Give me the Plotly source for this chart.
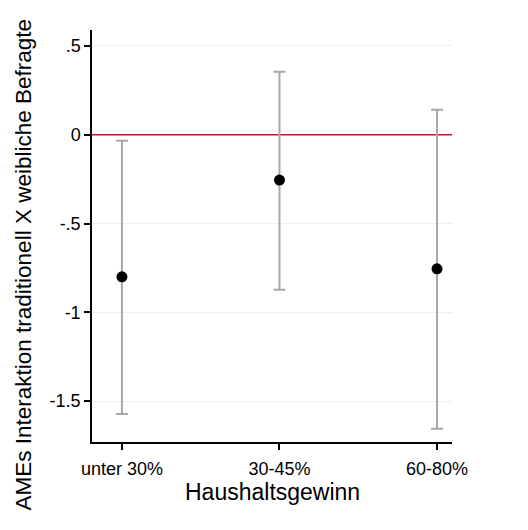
import plotly.graph_objects as go

categories = ["unter 30%", "30-45%", "60-80%"]
estimates = [-0.80, -0.255, -0.755]
ci_upper = [-0.034, 0.355, 0.141]
ci_lower = [-1.572, -0.873, -1.656]
ytick_vals = [0.5, 0, -0.5, -1, -1.5]
ytick_text = [".5", "0", "-.5", "-1", "-1.5"]
xrange_ = [0.81, 3.095]

xpos = [1, 2, 3]
err_plus = [u - e for u, e in zip(ci_upper, estimates)]
err_minus = [e - l for e, l in zip(estimates, ci_lower)]

# page body has an 8px margin; figure is sized so the page is 528x530
W, H = 512, 514
L, T = 84, 22
PW, PH = 360, 412
R, B = W - L - PW, H - T - PH

fig = go.Figure()
fig.add_trace(go.Scatter(x=xrange_, y=[0, 0], mode="lines",
                         line=dict(color="#c8102e", width=1.5), showlegend=False,
                         hoverinfo="skip"))
fig.add_trace(go.Scatter(
    x=xpos, y=estimates, mode="markers",
    marker=dict(color="black", size=11),
    error_y=dict(type="data", symmetric=False, array=err_plus, arrayminus=err_minus,
                 color="#a8a8a8", thickness=2, width=6),
    showlegend=False))

fig.update_layout(
    width=W, height=H,
    margin=dict(l=L, r=R, t=T, b=B, autoexpand=False),
    paper_bgcolor="white", plot_bgcolor="white",
    font=dict(family="Liberation Sans, Arial, sans-serif", color="black"),
    xaxis=dict(range=xrange_, tickvals=xpos, ticktext=categories, automargin=False,
               showgrid=False, zeroline=False, showline=True, linecolor="black", linewidth=1.5,
               ticks="outside", ticklen=6, tickwidth=1.5, tickcolor="black",
               tickfont=dict(size=18), ticklabelstandoff=4),
    yaxis=dict(range=[-1.73, 0.59], tickvals=ytick_vals, ticktext=ytick_text, automargin=False,
               showgrid=True, gridcolor="#e8f0f0", gridwidth=1, zeroline=False,
               showline=True, linecolor="black", linewidth=1.5,
               ticks="outside", ticklen=6, tickwidth=1.5, tickcolor="black",
               tickfont=dict(size=18)),
    annotations=[
        dict(text="AMEs Interaktion traditionell X weibliche Befragte",
             xref="paper", yref="paper", x=-L / PW, y=(T + PH - 257) / PH,
             xanchor="left", yanchor="middle", textangle=-90, showarrow=False,
             font=dict(size=22.5)),
        dict(text="Haushaltsgewinn",
             xref="paper", yref="paper", x=0.5, y=(T + PH - 484) / PH,
             xanchor="center", yanchor="middle", showarrow=False, borderpad=0,
             font=dict(size=23)),
    ],
)
fig.write_html("out.html")
